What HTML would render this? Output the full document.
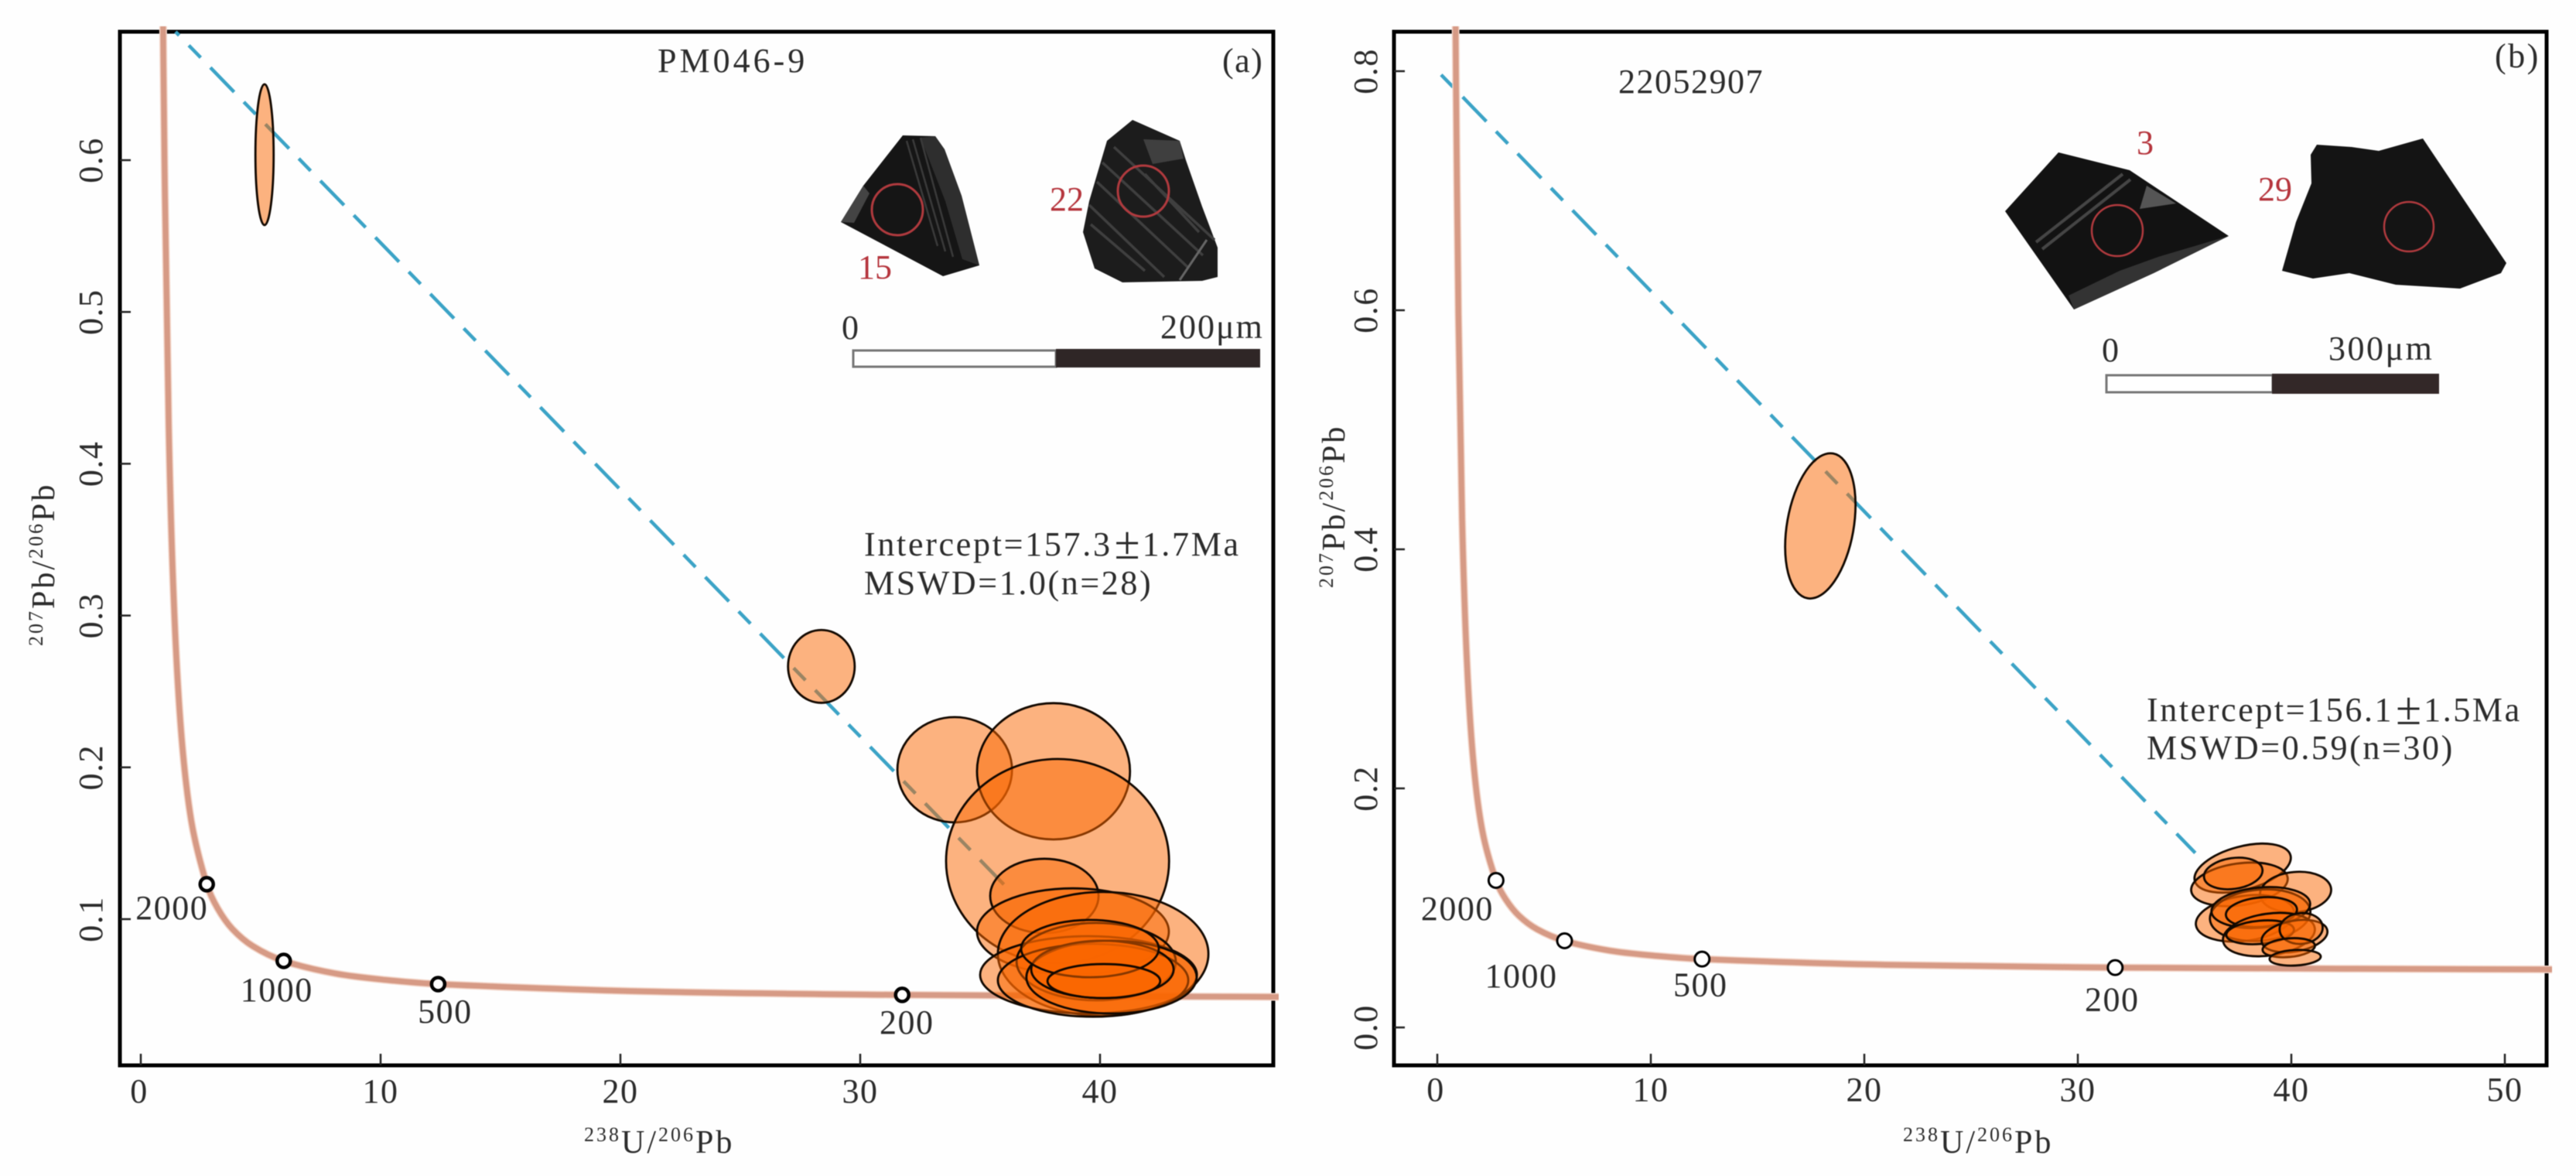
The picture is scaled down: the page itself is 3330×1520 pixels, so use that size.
<!DOCTYPE html>
<html lang="en">
<head>
<meta charset="utf-8">
<title>Tera-Wasserburg concordia diagrams</title>
<style>
html,body{margin:0;padding:0;background:#fefefe;}
svg{display:block;filter:blur(0.6px);}
text{font-family:"Liberation Serif",serif;fill:#2b2b2b;font-size:44px;letter-spacing:1.5px;}
.red{fill:#b5343c;}
.ttl{font-size:42px;letter-spacing:3px;}
.sup{font-size:26px;}
.pm{font-size:60px;letter-spacing:0;}
</style>
</head>
<body>
<svg id="fig" xmlns="http://www.w3.org/2000/svg" width="3330" height="1520" viewBox="0 0 3330 1520">
  <defs>
    <clipPath id="clipA"><rect x="150" y="34" width="1503" height="1350"/></clipPath>
    <clipPath id="clipB"><rect x="1797" y="34" width="1502" height="1350"/></clipPath>
  </defs>
  <rect x="0" y="0" width="3330" height="1520" fill="#fefefe"/>

  <g id="panelA"></g>
  <g id="panelB"></g>

  <g>
    <text x="850" y="93" style="letter-spacing:4px">PM046-9</text>
    <text x="1580" y="93">(a)</text>
    <text x="1117" y="718" style="letter-spacing:2.7px">Intercept=157.3<tspan class="pm" dy="4" dx="3">±</tspan><tspan dy="-4" dx="3">1.7Ma</tspan></text>
    <text x="1117" y="768" style="letter-spacing:2.6px">MSWD=1.0(n=28)</text>
    <text class="ttl" x="755" y="1490"><tspan class="sup" dy="-15">238</tspan><tspan dy="15">U/</tspan><tspan class="sup" dy="-15">206</tspan><tspan dy="15">Pb</tspan></text>
    <text class="ttl" transform="translate(70,835) rotate(-90)"><tspan class="sup" dy="-15">207</tspan><tspan dy="15">Pb/</tspan><tspan class="sup" dy="-15">206</tspan><tspan dy="15">Pb</tspan></text>

    <g>
      <polygon points="1167,175 1209,176 1221,193 1243,253 1266,343 1219,357 1087,287 1116,240" fill="#151515"/>
      <polygon points="1190,178 1209,176 1221,193 1243,253 1266,343 1244,335 1222,260" fill="#2e2e2e"/>
      <path d="M1172,182 L1212,318 M1180,180 L1222,325 M1190,178 L1232,332" stroke="#3a3a3a" stroke-width="2.5" fill="none"/>
      <polygon points="1087,287 1116,240 1124,250 1104,288" fill="#444"/>
      <circle cx="1160" cy="271" r="33" fill="none" stroke="#b03a3e" stroke-width="3"/>
    </g>
    <text class="red" x="1109" y="360" style="letter-spacing:0">15</text>
    <g>
      <polygon points="1464,155 1525,182 1533,207 1554,267 1574,320 1574,358 1554,363 1451,365 1415,347 1400,300 1408,260 1431,182" fill="#1c1c1c"/>
      <path d="M1410,290 L1480,350 M1408,265 L1505,358 M1418,235 L1535,345 M1425,210 L1555,330 M1440,190 L1570,310 M1480,225 L1550,300" stroke="#3f3f3f" stroke-width="3.5" fill="none"/>
      <path d="M1560,310 L1525,362" stroke="#666" stroke-width="3" fill="none"/>
      <polygon points="1478,180 1525,182 1530,205 1490,212" fill="#3f3f3f"/>
      <circle cx="1478" cy="247" r="33" fill="none" stroke="#b03a3e" stroke-width="3"/>
    </g>
    <text class="red" x="1357" y="272" style="letter-spacing:0">22</text>
    <g>
      <rect x="1103" y="453" width="262" height="21" fill="#fff" stroke="#777" stroke-width="3"/>
      <rect x="1365" y="451" width="264" height="24" fill="#2f2626"/>
    </g>
    <text x="1088" y="438">0</text>
    <text x="1500" y="437" style="letter-spacing:2px">200μm</text>
  </g>

  <g>
    <text x="2092" y="120">22052907</text>
    <text x="3225" y="87" style="letter-spacing:2.5px">(b)</text>
    <text x="2775" y="932" style="letter-spacing:2.6px">Intercept=156.1<tspan class="pm" dy="4" dx="3">±</tspan><tspan dy="-4" dx="3">1.5Ma</tspan></text>
    <text x="2775" y="981" style="letter-spacing:2.6px">MSWD=0.59(n=30)</text>
    <text class="ttl" x="2460" y="1490"><tspan class="sup" dy="-15">238</tspan><tspan dy="15">U/</tspan><tspan class="sup" dy="-15">206</tspan><tspan dy="15">Pb</tspan></text>
    <text class="ttl" transform="translate(1738,760) rotate(-90)"><tspan class="sup" dy="-15">207</tspan><tspan dy="15">Pb/</tspan><tspan class="sup" dy="-15">206</tspan><tspan dy="15">Pb</tspan></text>

    <g>
      <polygon points="2661,197 2753,220 2881,305 2784,353 2681,400 2592,273" fill="#121212"/>
      <path d="M2744,225 L2632,313 M2754,232 L2640,322" stroke="#454545" stroke-width="4" fill="none"/>
      <polygon points="2775,240 2813,263 2766,270" fill="#555"/>
      <polygon points="2681,400 2674,382 2740,350 2790,332 2881,305 2784,353" fill="#333"/>
      <circle cx="2737" cy="298" r="33" fill="none" stroke="#b03a3e" stroke-width="2.5"/>
    </g>
    <text class="red" x="2762" y="199" style="letter-spacing:0">3</text>
    <g>
      <polygon points="2995,187 3040,190 3075,195 3132,179 3240,340 3233,353 3180,373 3097,368 3037,353 2990,360 2950,350 2968,287 2988,237 2987,200" fill="#141414"/>
      <circle cx="3114" cy="293" r="32" fill="none" stroke="#b03a3e" stroke-width="2.5"/>
    </g>
    <text class="red" x="2919" y="259" style="letter-spacing:0">29</text>
    <g>
      <rect x="2723" y="485" width="215" height="22" fill="#fff" stroke="#777" stroke-width="3"/>
      <rect x="2937" y="483" width="216" height="26" fill="#332828"/>
    </g>
    <text x="2717" y="467">0</text>
    <text x="3010" y="465" style="letter-spacing:2.5px">300μm</text>
  </g>
</svg>

<script>
// Concordia curve
const concordiaX = [0.853,0.905,0.99,1.163,1.387,1.687,2.111,2.749,3.206,3.817,4.67,5.958,8.10,10.26,12.40,21.0,31.75,42.5,49,56];
const concordiaY = [0.845,0.7346,0.5966,0.4252,0.3058,0.2226,0.1643,0.1230,0.1071,0.0936,0.0822,0.0725,0.0642,0.0599,0.0572,0.0524,0.0501,0.0491,0.0487,0.0484];
// Age markers on the concordia
const ageLabels = ["2000","1000","500","200"];
const ageX = [2.75,5.96,12.4,31.75];
const ageY = [0.123,0.0725,0.0572,0.0501];

// Panel (a) axes
const aXTicks = [0,10,20,30,40];
const aYTicks = [0.1,0.2,0.3,0.4,0.5,0.6];
const aYTickLabels = ["0.1","0.2","0.3","0.4","0.5","0.6"];
// Panel (a) discordia end points
const aLineX = [1.45,36.3];
const aLineY = [0.6846,0.1178];
// Panel (a) error ellipses
const aEllX = [5.16,28.38,33.94,38.06,38.23,37.68,38.87,40.13,39.52,39.84,39.71,40.48,40.1,39.58,40.16];
const aEllY = [0.6036,0.2665,0.1984,0.1974,0.1382,0.1153,0.0918,0.0771,0.0633,0.0720,0.0597,0.0618,0.0669,0.0806,0.0592];
const aEllXErr = [0.38,1.39,2.39,3.19,4.65,2.26,4.0,4.39,4.52,3.32,3.97,3.55,2.97,2.87,2.35];
const aEllYErr = [0.0464,0.0240,0.0347,0.0449,0.0673,0.0245,0.0285,0.0408,0.0255,0.0255,0.0240,0.0240,0.0189,0.0189,0.0112];

// Panel (b) axes
const bXTicks = [0,10,20,30,40,50];
const bYTicks = [0,0.2,0.4,0.6,0.8];
const bYTickLabels = ["0.0","0.2","0.4","0.6","0.8"];
// Panel (b) discordia end points
const bLineX = [0.18,35.5];
const bLineY = [0.797,0.146];
// Panel (b) error ellipses
const bEllX = [17.94,37.72,37.57,37.28,40.2,37.83,38.54,38.57,38.6,38.95,38.54,40.15,40.46,39.88,40.18];
const bEllY = [0.4196,0.1333,0.1197,0.1288,0.1133,0.0913,0.0939,0.1003,0.0965,0.0777,0.0796,0.0764,0.0828,0.0667,0.0583];
const bEllXErr = [1.56,2.32,2.28,1.38,1.67,2.32,2.36,2.32,1.67,2.17,1.59,1.56,1.01,1.23,1.2];
const bEllYErr = [0.0615,0.0181,0.0175,0.0129,0.0168,0.0188,0.0214,0.0168,0.0123,0.0175,0.0097,0.0129,0.0129,0.0078,0.0065];
const bEllTilt = [10,-15,-8,-8,-5,-8,-5,-5,-5,-8,-5,-10,-5,-5,-3];

const NS = "http://www.w3.org/2000/svg";
function mk(parent, tag, attrs, txt){
  const e = document.createElementNS(NS, tag);
  for (const k in attrs) e.setAttribute(k, attrs[k]);
  if (txt !== undefined) e.textContent = txt;
  parent.appendChild(e);
  return e;
}
function curvePath(xs, ys, sx, sy){
  const p = xs.map((v,i)=>[sx(v), sy(ys[i])]);
  let d = "M" + p[0][0].toFixed(1) + "," + p[0][1].toFixed(1);
  for (let i=0;i<p.length-1;i++){
    const p0=p[Math.max(i-1,0)], p1=p[i], p2=p[i+1], p3=p[Math.min(i+2,p.length-1)];
    const len=Math.hypot(p2[0]-p1[0],p2[1]-p1[1]);
    const l1=Math.hypot(p2[0]-p0[0],p2[1]-p0[1])||1, l2=Math.hypot(p3[0]-p1[0],p3[1]-p1[1])||1;
    const c1=[p1[0]+(p2[0]-p0[0])/l1*len/3, p1[1]+(p2[1]-p0[1])/l1*len/3];
    const c2=[p2[0]-(p3[0]-p1[0])/l2*len/3, p2[1]-(p3[1]-p1[1])/l2*len/3];
    d+=" C"+c1[0].toFixed(1)+","+c1[1].toFixed(1)+" "+c2[0].toFixed(1)+","+c2[1].toFixed(1)+" "+p2[0].toFixed(1)+","+p2[1].toFixed(1);
  }
  return d;
}
function drawFrame(g, box, sx, sy, xTicks, yTicks, yLabels, yLabelX, xLabelY){
  const frame = mk(g,"rect",{x:box.l,y:box.t,width:box.r-box.l,height:box.b-box.t,fill:"none",stroke:"#000","stroke-width":5});
  
  
  xTicks.forEach((v)=>{
    const t = mk(g,"line",{x1:sx(v),x2:sx(v),y1:box.b,y2:box.b-15,stroke:"#222","stroke-width":2.5});
    
    
    const l = mk(g,"text",{x:sx(v)-(v===0?2:0),y:xLabelY,"text-anchor":"middle"},String(v));
    
    
  });
  yTicks.forEach((v,i)=>{
    const t = mk(g,"line",{x1:box.l,x2:box.l+14,y1:sy(v),y2:sy(v),stroke:"#222","stroke-width":2.5});
    
    
    const l = mk(g,"text",{"text-anchor":"middle",transform:"translate("+yLabelX+","+sy(v)+") rotate(-90)"},yLabels[i]);
    
    
  });
}
function drawCurve(g, sx, sy, clip){
  const halo = mk(g,"path",{d:curvePath(concordiaX,concordiaY,sx,sy),fill:"none",stroke:"#f2d3c6","stroke-width":10,"clip-path":"url(#"+clip+")"});
  
  
  const c = mk(g,"path",{d:curvePath(concordiaX,concordiaY,sx,sy),fill:"none",stroke:"#d69a85","stroke-width":7,"clip-path":"url(#"+clip+")"});
  
  
}
function drawLine(g, xs, ys, sx, sy, offset){
  const l = mk(g,"line",{x1:sx(xs[0]),y1:sy(ys[0]),x2:sx(xs[1]),y2:sy(ys[1]),stroke:"#3ba3c6","stroke-width":4.5,"stroke-dasharray":"44 18 22 18","stroke-dashoffset":offset});
  
  
}
function drawEllipses(g, xs, ys, ex, ey, tilt, sx, sy){
  xs.forEach((v,i)=>{
    const cx=sx(v), cy=sy(ys[i]);
    const rx=Math.abs(sx(v+ex[i])-cx), ry=Math.abs(sy(ys[i]+ey[i])-cy);
    const attrs={cx:cx,cy:cy,rx:rx,ry:ry,fill:"rgba(250,102,0,0.5)",stroke:"#120800","stroke-width":2.8};
    if (tilt) attrs.transform="rotate("+tilt[i]+" "+cx+" "+cy+")";
    const e = mk(g,"ellipse",attrs);
    
    
  });
}
function drawAges(g, sx, sy, r, sw){
  ageX.forEach((v,i)=>{
    const m = mk(g,"circle",{cx:sx(v),cy:sy(ageY[i]),r:r,fill:"#fff",stroke:"#000","stroke-width":sw});
    
    
  });
}
function drawAgeLabels(g, sx, sy, dx, dy){
  ageLabels.forEach((t,i)=>{
    const l = mk(g,"text",{x:sx(ageX[i])+dx[i],y:sy(ageY[i])+dy[i],"text-anchor":"middle"},t);
    
    
  });
}

// ---- panel (a)
const xA = v => 182 + 31*v;
const yA = v => 1384.2 - 1962*v;
const gA = document.getElementById("panelA");
drawFrame(gA,{l:155,r:1646,t:41,b:1377},xA,yA,aXTicks,aYTicks,aYTickLabels,132,1425);
drawLine(gA,aLineX,aLineY,xA,yA,37.4);
drawCurve(gA,xA,yA,"clipA");
drawEllipses(gA,aEllX,aEllY,aEllXErr,aEllYErr,null,xA,yA);
drawAges(gA,xA,yA,8.5,4.5);
drawAgeLabels(gA,xA,yA,[-45,-9,9,6],[45,52,50,50]);

// ---- panel (b)
const xB = v => 1858 + 27.6*v;
const yB = v => 1328 - 1545*v;
const gB = document.getElementById("panelB");
drawFrame(gB,{l:1802,r:3292,t:41,b:1377},xB,yB,bXTicks,bYTicks,bYTickLabels,1780,1423);
drawLine(gB,bLineX,bLineY,xB,yB,62);
drawCurve(gB,xB,yB,"clipB");
drawEllipses(gB,bEllX,bEllY,bEllXErr,bEllYErr,bEllTilt,xB,yB);
drawAges(gB,xB,yB,9.5,3);
drawAgeLabels(gB,xB,yB,[-50,-56,-2,-4],[51,60,48,56]);
</script>
</body>
</html>
